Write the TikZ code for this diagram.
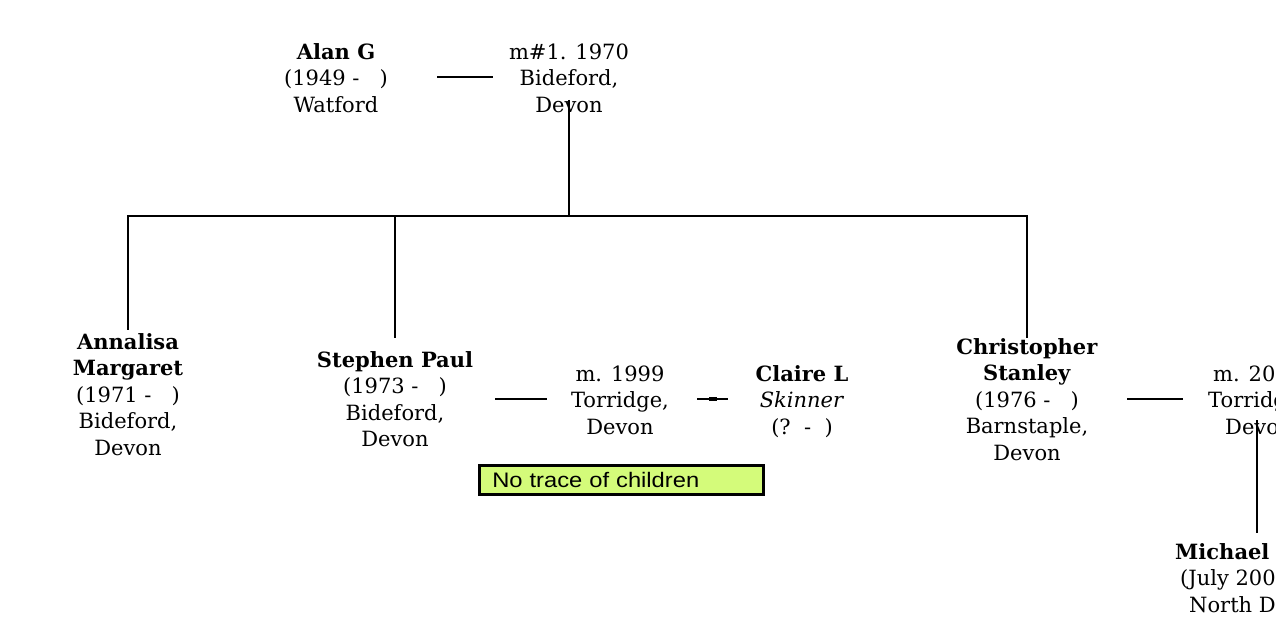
\documentclass[tikz,border=0pt]{standalone}
\usepackage{fontspec}
\setmainfont{DejaVu Serif}
\newfontfamily\notefont[FakeStretch=1.13]{Liberation Sans}
\newcommand\fs{\fontsize{21}{26.5}\selectfont}
\definecolor{notegreen}{RGB}{212,251,122}
\begin{document}
\begin{tikzpicture}[x=1pt,y=-1pt,
  person/.style={align=center,anchor=north,inner sep=0pt,font=\fs},
  partial/.style={anchor=north west,inner sep=0pt,font=\fs},
  link/.style={line width=2.6pt},
  note/.style={draw,line width=2.6pt,fill=notegreen,anchor=north west,inner xsep=13pt,inner ysep=0pt,
    text width=258pt,minimum height=29pt,align=left,font=\notefont\fontsize{21}{24}\selectfont}]
\useasboundingbox (0,0) rectangle (1276,617);
\clip (0,0) rectangle (1276,617);

% generation 1
\node[person] (alan) at (336,40.5) {\strut\textbf{Alan G}\\(1949 -\ \ \ )\\Watford};
\node[person] (m1) at (569,40.5) {\strut m\#1. 1970\\Bideford,\\Devon};
\coordinate (alanR) at (437,77);
\coordinate (m1L) at (493,77);
\draw[link] (alanR) -- (m1L);

% children
\node[person] (anna) at (128,330.5) {\strut\textbf{Annalisa}\\\textbf{Margaret}\\(1971 -\ \ \ )\\Bideford,\\Devon};
\node[person] (steph) at (395,348.5) {\strut\textbf{Stephen Paul}\\(1973 -\ \ \ )\\Bideford,\\Devon};
\node[person] (chris) at (1027,335.5) {\strut\textbf{Christopher}\\\textbf{Stanley}\\(1976 -\ \ \ )\\Barnstaple,\\Devon};

\coordinate (m1down) at (569,100);
\coordinate (bus) at (569,216);
\coordinate (busL) at (128,216);
\coordinate (busS) at (395,216);
\coordinate (busR) at (1027,216);
\coordinate (annaT) at (128,330);
\coordinate (stephT) at (395,338);
\coordinate (chrisT) at (1027,338);
\draw[link] (m1down) -- (bus);
\draw[link,line cap=rect] (busL) -- (busR);
\draw[link] (busL) -- (annaT);
\draw[link] (busS) -- (stephT);
\draw[link] (busR) -- (chrisT);

% Stephen's marriage
\node[person] (m2) at (620,362.5) {\strut m. 1999\\Torridge,\\Devon};
\node[person] (claire) at (802,362.5) {\strut\textbf{Claire L}\\\textit{Skinner}\\(?\ \ -\ \ )};
\coordinate (stephR) at (495,399);
\coordinate (m2L) at (547,399);
\draw[link] (stephR) -- (m2L);
\coordinate (m2R) at (697,399);
\coordinate (claireL) at (728,399);
\coordinate (tickL) at (709,399);
\coordinate (tickR) at (717,399);
\draw[link] (m2R) -- (claireL);
\draw[line width=3.8pt] (tickL) -- (tickR);

\node[note] (nochild) at (478,464) {No trace of children};

% Christopher's marriage (cut off at the right edge, as in the source)
\coordinate (chrisR) at (1127,399);
\coordinate (m3L) at (1183,399);
\draw[link] (chrisR) -- (m3L);
\node[partial] (m3a) at (1213,362.5) {\strut m. 200};
\node[partial] (m3b) at (1208,389) {\strut Torridg};
\node[partial] (m3c) at (1225,415.5) {\strut Devon};
\coordinate (m3down) at (1257,420);
\coordinate (michT) at (1257,533);
\draw[link] (m3down) -- (michT);

\node[partial] (michA) at (1175,540.5) {\strut\textbf{Michael}};
\node[partial] (michB) at (1180,567) {\strut(July 200};
\node[partial] (michC) at (1189,593.5) {\strut North D};
\end{tikzpicture}
\end{document}
